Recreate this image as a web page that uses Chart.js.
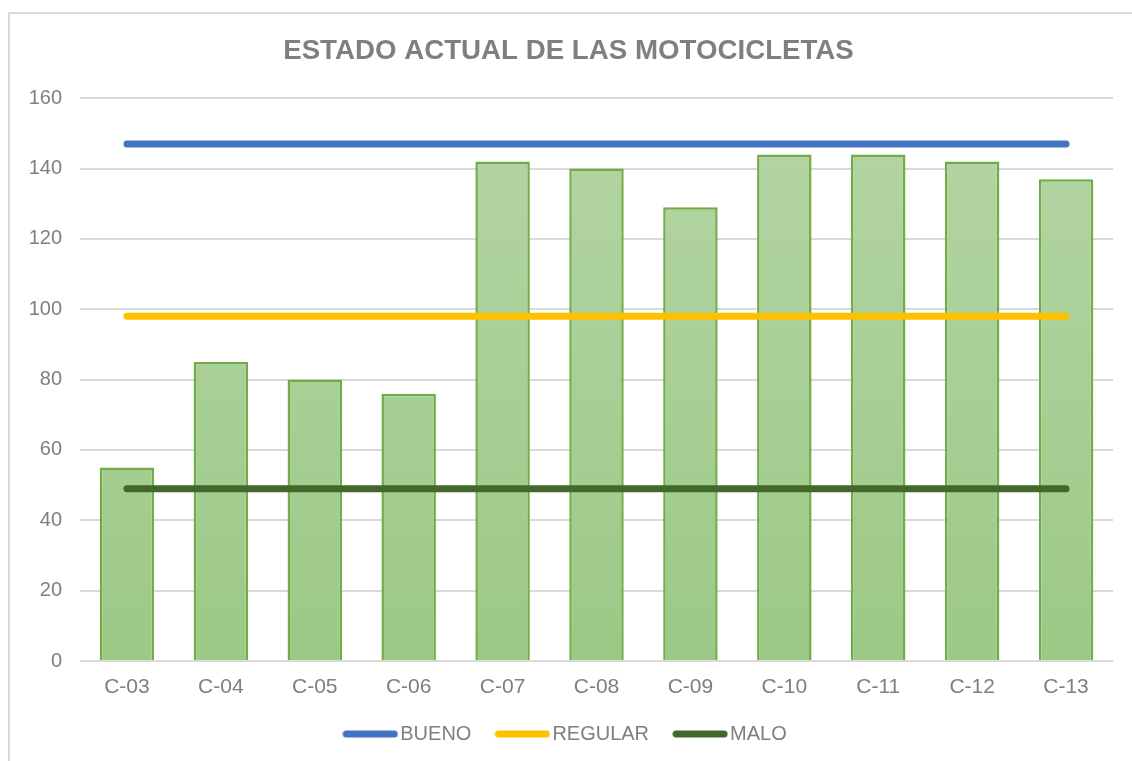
<!DOCTYPE html>
<html lang="es">
<head>
    <meta charset="UTF-8">
    <title>Estado actual de las motocicletas</title>
    <script src="https://cdn.jsdelivr.net/npm/chart.js"></script>
    <style>
        html, body { margin: 0; padding: 0; background: #fff; overflow: hidden; }
        .frame {
            position: absolute; left: 8px; top: 12px;
            width: 1200px; height: 800px;
            border: 2px solid #d9d9d9; box-sizing: border-box;
        }
        .wrap { position: absolute; left: 0; top: 0; width: 1132px; height: 761px; }
    </style>
</head>
<body>
    <div class="frame"></div>
    <div class="wrap"><canvas id="chart"></canvas></div>

    <script>
        // Data
        const categories = ['C-03', 'C-04', 'C-05', 'C-06', 'C-07', 'C-08', 'C-09', 'C-10', 'C-11', 'C-12', 'C-13'];
        const estado = [55, 85, 80, 76, 142, 140, 129, 144, 144, 142, 137];
        const bueno = [147, 147, 147, 147, 147, 147, 147, 147, 147, 147, 147];
        const regular = [98, 98, 98, 98, 98, 98, 98, 98, 98, 98, 98];
        const malo = [49, 49, 49, 49, 49, 49, 49, 49, 49, 49, 49];
        const yTicks = [0, 20, 40, 60, 80, 100, 120, 140, 160];

        const grey = '#7f7f7f';
        const font = 'Liberation Sans, Arial, sans-serif';

        // green vertical gradient for the bars
        function barFill(context) {
            const area = context.chart.chartArea;
            if (!area) return '#a9cf95';
            const g = context.chart.ctx.createLinearGradient(0, area.top, 0, area.bottom);
            g.addColorStop(0, '#b5d5a5');
            g.addColorStop(1, '#9cc986');
            return g;
        }

        // small rounded line used as the legend marker
        function legendMark(color) {
            const c = document.createElement('canvas');
            c.width = 56;
            c.height = 8;
            const ctx = c.getContext('2d');
            ctx.strokeStyle = color;
            ctx.lineWidth = 7;
            ctx.lineCap = 'round';
            ctx.beginPath();
            ctx.moveTo(4, 4);
            ctx.lineTo(52, 4);
            ctx.stroke();
            return c;
        }

        function lineSet(label, data, color) {
            return {
                type: 'line',
                label: label,
                data: data,
                borderColor: color,
                backgroundColor: color,
                borderWidth: 7,
                borderCapStyle: 'round',
                pointRadius: 0,
                pointStyle: legendMark(color),
                order: 0
            };
        }

        new Chart(document.getElementById('chart'), {
            data: {
                labels: categories,
                datasets: [
                    {
                        type: 'bar',
                        label: 'Estado',
                        data: estado,
                        backgroundColor: barFill,
                        borderColor: '#70ad47',
                        borderWidth: 2.5,
                        borderSkipped: 'bottom',
                        barPercentage: 0.58,
                        categoryPercentage: 1,
                        order: 1
                    },
                    lineSet('BUENO', bueno, '#4472c4'),
                    lineSet('REGULAR', regular, '#ffc000'),
                    lineSet('MALO', malo, '#43682b')
                ]
            },
            options: {
                responsive: true,
                maintainAspectRatio: false,
                animation: false,
                layout: { padding: { left: 24, right: 19, top: 35, bottom: 7 } },
                plugins: {
                    title: {
                        display: true,
                        text: 'ESTADO ACTUAL DE LAS MOTOCICLETAS',
                        color: grey,
                        font: { family: font, size: 27.7, weight: 'bold' },
                        padding: { top: 0, bottom: 30 }
                    },
                    legend: {
                        position: 'bottom',
                        labels: {
                            color: grey,
                            font: { family: font, size: 20 },
                            usePointStyle: true,
                            pointStyleWidth: 40,
                            padding: 31,
                            filter: item => item.text !== 'Estado'
                        }
                    },
                    tooltip: { enabled: false }
                },
                scales: {
                    x: {
                        grid: { display: false, drawTicks: false },
                        border: { display: false },
                        ticks: { color: grey, font: { family: font, size: 21 }, padding: 14 },
                        afterFit: axis => { axis.height = 32; }
                    },
                    y: {
                        min: 0,
                        max: 160,
                        afterBuildTicks: axis => { axis.ticks = yTicks.map(v => ({ value: v })); },
                        afterFit: axis => { axis.width = 56; },
                        grid: { color: '#d9d9d9', lineWidth: 2, drawTicks: false },
                        border: { display: false },
                        ticks: { color: grey, font: { family: font, size: 20 }, padding: 18 }
                    }
                }
            }
        });
    </script>
</body>
</html>
